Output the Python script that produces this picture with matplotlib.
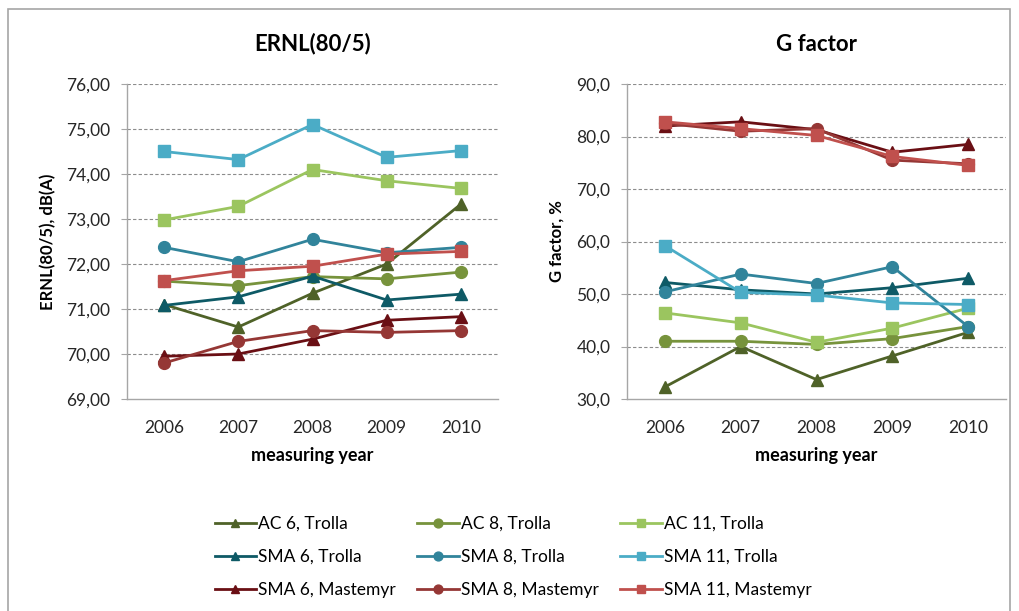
import matplotlib.pyplot as plt
from matplotlib.patches import Rectangle
from matplotlib.ticker import FuncFormatter

plt.rcParams['font.family'] = ['Lato', 'DejaVu Sans']

years = ["2006", "2007", "2008", "2009", "2010"]

labels = ["AC 6, Trolla", "AC 8, Trolla", "AC 11, Trolla",
          "SMA 6, Trolla", "SMA 8, Trolla", "SMA 11, Trolla",
          "SMA 6, Mastemyr", "SMA 8, Mastemyr", "SMA 11, Mastemyr"]

# ERNL(80/5), dB(A)
ernl_ac6_trolla = [71.10, 70.60, 71.35, 72.00, 73.33]
ernl_ac8_trolla = [71.62, 71.52, 71.72, 71.67, 71.82]
ernl_ac11_trolla = [72.98, 73.28, 74.10, 73.85, 73.68]
ernl_sma6_trolla = [71.08, 71.27, 71.73, 71.20, 71.33]
ernl_sma8_trolla = [72.37, 72.05, 72.55, 72.25, 72.37]
ernl_sma11_trolla = [74.50, 74.32, 75.10, 74.37, 74.52]
ernl_sma6_mastemyr = [69.95, 70.00, 70.33, 70.75, 70.83]
ernl_sma8_mastemyr = [69.80, 70.28, 70.52, 70.48, 70.52]
ernl_sma11_mastemyr = [71.63, 71.85, 71.95, 72.22, 72.28]

# G factor, %
g_ac6_trolla = [32.3, 40.0, 33.7, 38.2, 42.7]
g_ac8_trolla = [41.0, 41.0, 40.4, 41.5, 43.8]
g_ac11_trolla = [46.4, 44.5, 40.8, 43.5, 47.3]
g_sma6_trolla = [52.2, 50.8, 50.0, 51.2, 53.0]
g_sma8_trolla = [50.4, 53.8, 52.0, 55.2, 43.8]
g_sma11_trolla = [59.2, 50.3, 49.8, 48.3, 48.0]
g_sma6_mastemyr = [82.0, 82.8, 81.3, 77.0, 78.5]
g_sma8_mastemyr = [82.5, 81.0, 81.5, 75.5, 74.8]
g_sma11_mastemyr = [82.8, 81.5, 80.2, 76.2, 74.5]

ernl_series = [ernl_ac6_trolla, ernl_ac8_trolla, ernl_ac11_trolla,
               ernl_sma6_trolla, ernl_sma8_trolla, ernl_sma11_trolla,
               ernl_sma6_mastemyr, ernl_sma8_mastemyr, ernl_sma11_mastemyr]
g_series = [g_ac6_trolla, g_ac8_trolla, g_ac11_trolla,
            g_sma6_trolla, g_sma8_trolla, g_sma11_trolla,
            g_sma6_mastemyr, g_sma8_mastemyr, g_sma11_mastemyr]

colors = ["#4f6228", "#77933c", "#9bc55f",
          "#0e5a66", "#31849b", "#4bacc6",
          "#6a0f14", "#953735", "#c0504d"]
markers = ["^", "o", "s"] * 3

fig = plt.figure(figsize=(10.19, 6.11), dpi=100)
fig.patches.append(Rectangle((8 / 1019, -0.01), 1002 / 1019, 1 - 9 / 611 + 0.01,
                             transform=fig.transFigure, fill=False,
                             edgecolor="#a6a6a6", linewidth=1.2))

ax1 = fig.add_axes([127 / 1019, 1 - 399 / 611, 371 / 1019, 315 / 611])
ax2 = fig.add_axes([627 / 1019, 1 - 399 / 611, 379 / 1019, 315 / 611])

x = list(range(len(years)))


def style_axes(ax, ylim, step, fmt, title, ylabel, ylabel_x):
    ax.set_xlim(-0.5, len(years) - 0.5)
    ax.set_ylim(*ylim)
    ticks = []
    v = ylim[0]
    while v <= ylim[1] + 1e-9:
        ticks.append(v)
        v += step
    ax.set_yticks(ticks)
    ax.yaxis.set_major_formatter(FuncFormatter(lambda val, p: fmt.format(val).replace(".", ",")))
    ax.set_xticks(x)
    ax.set_xticklabels(years)
    ax.tick_params(labelsize=12.5, colors="#262626")
    ax.tick_params(axis="x", length=0, pad=15)
    ax.tick_params(axis="y", length=4, width=0.8, color="#a6a6a6", pad=8)
    for t in ticks[1:]:
        ax.axhline(t, color="#8c8c8c", linestyle=(0, (3, 2)), linewidth=0.8, zorder=0)
    for s in ["top", "right"]:
        ax.spines[s].set_visible(False)
    for s in ["left", "bottom"]:
        ax.spines[s].set_color("#a6a6a6")
        ax.spines[s].set_linewidth(1.0)
    ax.set_title(title, fontsize=16, fontweight="bold", pad=24)
    ax.set_ylabel(ylabel, fontsize=12, fontweight="bold")
    ax.yaxis.set_label_coords(ylabel_x, 0.5)
    ax.set_xlabel("measuring year", fontsize=13, fontweight="bold", labelpad=8)


for vals, c, m, lab in zip(ernl_series, colors, markers, labels):
    ax1.plot(x, vals, color=c, marker=m, markersize=8.5, linewidth=2, label=lab)
for vals, c, m, lab in zip(g_series, colors, markers, labels):
    ax2.plot(x, vals, color=c, marker=m, markersize=8.5, linewidth=2, label=lab)

style_axes(ax1, (69, 76), 1, "{:.2f}", "ERNL(80/5)", "ERNL(80/5), dB(A)", -0.191)
style_axes(ax2, (30, 90), 10, "{:.1f}", "G factor", "G factor, %", -0.166)

# legend fills column by column, so reorder to read row by row
handles, labs = ax1.get_legend_handles_labels()
order = [0, 3, 6, 1, 4, 7, 2, 5, 8]
fig.legend([handles[i] for i in order], [labs[i] for i in order],
           ncol=3, loc="upper left",
           bbox_to_anchor=(199 / 1019, 1 - 500 / 611), frameon=False,
           fontsize=12.5, handlelength=2.4, handletextpad=0.1,
           columnspacing=1.25, labelspacing=1.0, markerscale=0.75)

fig.savefig("out.png", dpi=100)
